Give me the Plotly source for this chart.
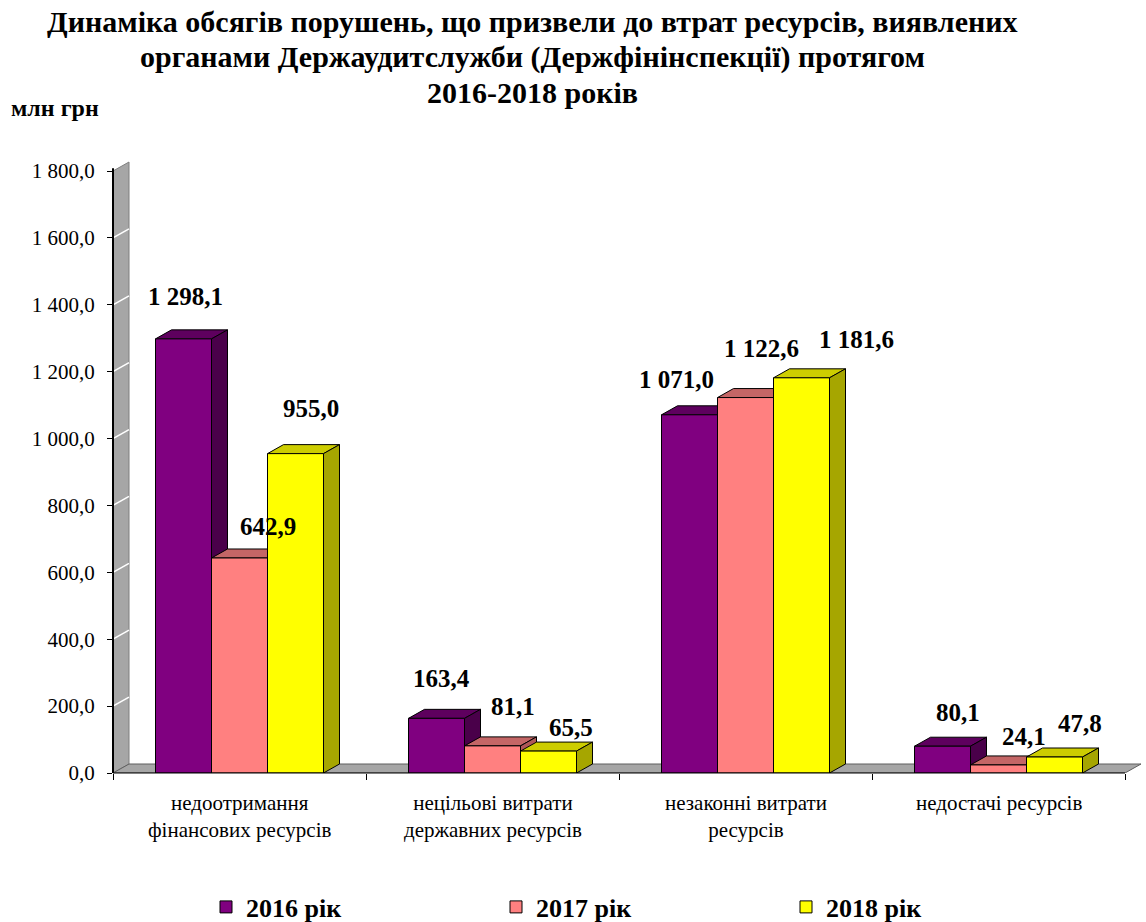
import plotly.graph_objects as go

# ---- data -------------------------------------------------------------
categories = [
    "недоотримання<br>фінансових ресурсів",
    "нецільові витрати<br>державних ресурсів",
    "незаконні витрати<br>ресурсів",
    "недостачі ресурсів",
]
years = ["2016 рік", "2017 рік", "2018 рік"]
v2016 = [1298.1, 163.4, 1071.0, 80.1]
v2017 = [642.9, 81.1, 1122.6, 24.1]
v2018 = [955.0, 65.5, 1181.6, 47.8]
y_tick_values = [0, 200, 400, 600, 800, 1000, 1200, 1400, 1600, 1800]
y_tick_labels = ["0,0", "200,0", "400,0", "600,0", "800,0", "1 000,0",
                 "1 200,0", "1 400,0", "1 600,0", "1 800,0"]
title_lines = [
    "Динаміка обсягів порушень, що призвели до втрат ресурсів, виявлених",
    "органами Держаудитслужби (Держфінінспекції) протягом",
    "2016-2018 років",
]

series = [v2016, v2017, v2018]

# ---- style ------------------------------------------------------------
FONT = "'Times New Roman', 'Liberation Serif', Tinos, 'DejaVu Serif', serif"
front_colors = ["#800080", "#FF8080", "#FFFF00"]
top_colors = ["#5E005E", "#C46666", "#CDCD00"]
side_colors = ["#4A004A", "#B05858", "#A6A600"]
WALL = "#A6A6A6"

# value-label nudges in pixels (dx right, dy up), per series and category
label_shift = [
    [(2, 42), (5, 40), (-13, 35), (15, 34)],
    [(28, 31), (20, 39), (16, 49), (25, 28)],
    [(15, 45), (22, 24), (55, 38), (25, 34)],
]

FIG_W, FIG_H = 1146, 922
M_L, M_R, M_T, M_B = 113, 4, 155, 149
PLOT_W = FIG_W - M_L - M_R
PLOT_H = FIG_H - M_T - M_B
CAT_PX = 253          # width of one category slot
AXIS_PX = 602         # pixel height of the 0..1800 value span
Y_MAX = 1800
DEPTH_PX = (16, 9)    # oblique depth of the 3-D look
BAR_PX = 56
TITLE_ROWS_PX = [22, 57, 92]

x_lo = -0.5
x_hi = x_lo + PLOT_W / CAT_PX
y_hi = Y_MAX * PLOT_H / AXIS_PX
DX = DEPTH_PX[0] / CAT_PX
DY = DEPTH_PX[1] * Y_MAX / AXIS_PX
BW = BAR_PX / CAT_PX
x_end = len(categories) - 0.5


def poly(pts):
    return "M " + " L ".join(f"{x},{y}" for x, y in pts) + " Z"


def px_x(px):
    return (px - M_L) / PLOT_W


def px_y(px):
    return (FIG_H - M_B - px) / PLOT_H


fig = go.Figure()
shapes = []

# back wall and floor
shapes.append(dict(type="path", xref="x", yref="y", layer="below",
                   path=poly([(x_lo, 0), (x_lo + DX, DY), (x_lo + DX, Y_MAX + DY), (x_lo, Y_MAX)]),
                   fillcolor=WALL, line=dict(color="#7F7F7F", width=1)))
for v in y_tick_values[1:-1]:
    shapes.append(dict(type="line", xref="x", yref="y", layer="below",
                       x0=x_lo, y0=v, x1=x_lo + DX, y1=v + DY,
                       line=dict(color="white", width=1.5)))
shapes.append(dict(type="path", xref="x", yref="y", layer="below",
                   path=poly([(x_lo, 0), (x_end, 0), (x_end + DX, DY), (x_lo + DX, DY)]),
                   fillcolor=WALL, line=dict(color="#5F5F5F", width=1)))

# bars: front faces as bar traces, top and side faces as shapes beneath them
for k, (name, vals) in enumerate(zip(years, series)):
    xs = [i + (k - 1) * BW for i in range(len(categories))]
    fig.add_trace(go.Bar(
        x=xs, y=vals, width=BW, name=f"<b>{name}</b>",
        marker=dict(color=front_colors[k], line=dict(color="black", width=1)),
        hoverinfo="skip",
    ))
for i in range(len(categories)):
    for k, vals in enumerate(series):
        h = vals[i]
        xl = i + (k - 1) * BW - BW / 2
        xr = xl + BW
        shapes.append(dict(type="path", xref="x", yref="y", layer="below",
                           path=poly([(xl, h), (xr, h), (xr + DX, h + DY), (xl + DX, h + DY)]),
                           fillcolor=top_colors[k], line=dict(color="black", width=1)))
        shapes.append(dict(type="path", xref="x", yref="y", layer="below",
                           path=poly([(xr, 0), (xr + DX, DY), (xr + DX, h + DY), (xr, h)]),
                           fillcolor=side_colors[k], line=dict(color="black", width=1)))

# axis lines
shapes.append(dict(type="line", xref="paper", yref="y", x0=0, x1=0, y0=0, y1=Y_MAX + 8,
                   line=dict(color="black", width=2)))
shapes.append(dict(type="line", xref="x", yref="paper", x0=x_lo, x1=x_end, y0=0, y1=0,
                   line=dict(color="black", width=1)))

annotations = []
# value labels
for k, vals in enumerate(series):
    for i, v in enumerate(vals):
        txt = f"{v:,.1f}".replace(",", " ").replace(".", ",")
        sx, sy = label_shift[k][i]
        annotations.append(dict(
            x=i + (k - 1) * BW, y=v, xref="x", yref="y", text=f"<b>{txt}</b>",
            showarrow=False, xanchor="center", yanchor="middle",
            xshift=sx, yshift=sy,
            font=dict(family=FONT, size=25, color="black")))
# category labels
for i, c in enumerate(categories):
    annotations.append(dict(
        x=i, y=0, xref="x", yref="y", text=c, showarrow=False,
        xanchor="center", yanchor="top", yshift=-16,
        font=dict(family=FONT, size=21, color="black")))
# unit label
annotations.append(dict(
    x=px_x(9), y=px_y(108), xref="paper", yref="paper",
    text="<b>млн грн</b>", showarrow=False, xanchor="left", yanchor="middle",
    font=dict(family=FONT, size=24, color="black")))
# chart title, one row at a time
for line, row in zip(title_lines, TITLE_ROWS_PX):
    annotations.append(dict(
        x=px_x(532), y=px_y(row), xref="paper", yref="paper",
        text=f"<b>{line}</b>", showarrow=False,
        xanchor="center", yanchor="middle",
        font=dict(family=FONT, size=30, color="black")))

fig.update_layout(
    width=FIG_W, height=FIG_H,
    margin=dict(l=M_L, r=M_R, t=M_T, b=M_B, autoexpand=False),
    paper_bgcolor="white", plot_bgcolor="white",
    barmode="overlay",
    xaxis=dict(range=[x_lo, x_hi], tickvals=[-0.5, 0.5, 1.5, 2.5, 3.5],
               showticklabels=False, ticks="outside", ticklen=6, tickcolor="black",
               showgrid=False, zeroline=False, showline=False, fixedrange=True),
    yaxis=dict(range=[0, y_hi], tickvals=y_tick_values, ticktext=y_tick_labels,
               ticks="outside", ticklen=5, tickcolor="black", ticklabelstandoff=8,
               showgrid=False, zeroline=False, showline=False,
               tickfont=dict(family=FONT, size=21, color="black"), fixedrange=True),
    legend=dict(orientation="h", x=px_x(206), xanchor="left",
                y=px_y(907), yanchor="middle",
                entrywidth=245, entrywidthmode="pixels", traceorder="normal",
                font=dict(family=FONT, size=26, color="black"),
                itemclick=False, itemdoubleclick=False),
    shapes=shapes,
    annotations=annotations,
    showlegend=True,
)

fig.write_html("out.html")
